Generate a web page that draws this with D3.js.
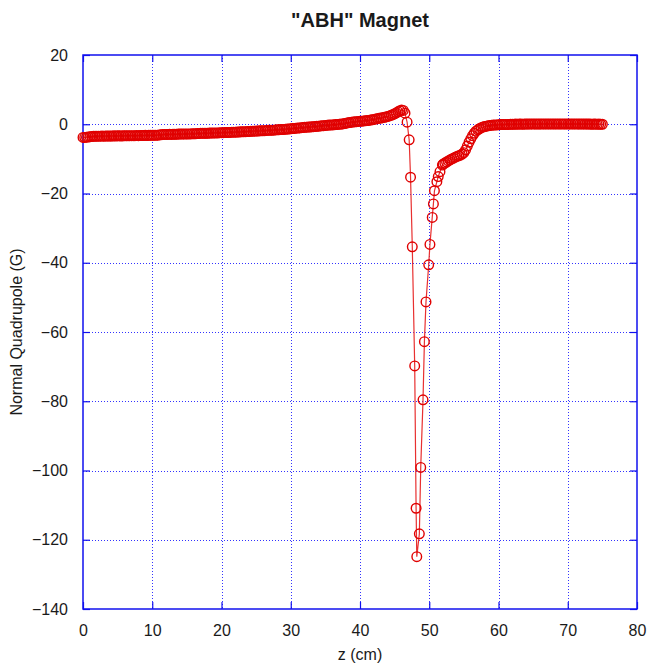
<!DOCTYPE html>
<html>
<head>
<meta charset="utf-8">
<script src="https://cdn.jsdelivr.net/npm/d3@7"></script>
<style>
  body { margin: 0; background: #fff; }
  text { font-family: "Liberation Sans", Arial, sans-serif; fill: #1a1a1a; }
</style>
</head>
<body>
<div id="chart"></div>
<script>
// loading data
// z grid of the smooth part before the dip (0 .. 46.5 cm, every 0.25 cm)
var zRise = d3.range(0, 46.51, 0.25);
var qRise = [
  -3.8, -3.8, -3.75, -3.7,      // 0
  -3.6, -3.55, -3.5, -3.5,      // 1
  -3.45, -3.45, -3.45, -3.4,    // 2
  -3.45, -3.4, -3.4, -3.4,      // 3
  -3.4, -3.4, -3.35, -3.4,      // 4
  -3.35, -3.35, -3.4, -3.35,    // 5
  -3.35, -3.3, -3.35, -3.3,     // 6
  -3.3, -3.3, -3.3, -3.25,      // 7
  -3.3, -3.25, -3.25, -3.25,    // 8
  -3.2, -3.25, -3.2, -3.2,      // 9
  -3.2, -3.15, -3.2, -3.15,     // 10
  -3.1, -3.05, -2.95, -2.95,    // 11
  -2.95, -2.95, -2.9, -2.95,    // 12
  -2.9, -2.9, -2.9, -2.85,      // 13
  -2.85, -2.85, -2.8, -2.85,    // 14
  -2.8, -2.8, -2.8, -2.75,      // 15
  -2.75, -2.75, -2.7, -2.65,    // 16
  -2.6, -2.6, -2.6, -2.6,       // 17
  -2.6, -2.55, -2.55, -2.55,    // 18
  -2.5, -2.5, -2.5, -2.45,      // 19
  -2.45, -2.45, -2.4, -2.4,     // 20
  -2.35, -2.35, -2.3, -2.3,     // 21
  -2.3, -2.25, -2.25, -2.2,     // 22
  -2.2, -2.15, -2.15, -2.1,     // 23
  -2.1, -2.05, -2.0, -2.0,      // 24
  -1.95, -1.95, -1.9, -1.9,     // 25
  -1.85, -1.85, -1.8, -1.75,    // 26
  -1.75, -1.7, -1.7, -1.65,     // 27
  -1.6, -1.6, -1.55, -1.5,      // 28
  -1.5, -1.45, -1.4, -1.35,     // 29
  -1.3, -1.25, -1.2, -1.15,     // 30
  -1.1, -1.05, -1.0, -0.95,     // 31
  -0.9, -0.85, -0.8, -0.8,      // 32
  -0.75, -0.7, -0.65, -0.6,     // 33
  -0.55, -0.5, -0.45, -0.4,     // 34
  -0.35, -0.3, -0.25, -0.2,     // 35
  -0.2, -0.15, -0.1, -0.05,     // 36
  0.0, 0.05, 0.1, 0.2,          // 37
  0.3, 0.4, 0.5, 0.6,           // 38
  0.65, 0.7, 0.75, 0.8,         // 39
  0.85, 0.9, 0.95, 1.0,         // 40
  1.05, 1.1, 1.2, 1.3,          // 41
  1.4, 1.5, 1.6, 1.7,           // 42
  1.8, 1.9, 2.0, 2.1,           // 43
  2.25, 2.4, 2.6, 2.8,          // 44
  3.0, 3.3, 3.6, 3.9,           // 45
  4.1, 4.0, 3.2                 // 46
];

// the dip, read point by point
var zDip = [46.8, 47.1, 47.3, 47.55, 47.9, 48.1, 48.2, 48.57, 48.77, 49.1, 49.3,
            49.53, 49.92, 50.1, 50.43, 50.6, 50.75, 51.1, 51.3, 51.55, 51.9];
var qDip = [0.6, -4.5, -15.3, -35.4, -69.8, -110.9, -124.9, -118.3, -99.1, -79.6, -62.8,
            -51.3, -40.6, -34.7, -26.9, -23.0, -19.2, -16.6, -15.1, -13.7, -11.8];

// the recovery and the tail (52 .. 75 cm, every 0.25 cm)
var zTail = d3.range(52, 75.01, 0.25);
var qTail = [
  -11.5, -11.2, -10.9, -10.6,   // 52
  -10.3, -10.0, -9.8, -9.5,     // 53
  -9.3, -9.1, -8.9, -8.6,       // 54
  -8.2, -7.4, -6.3, -5.2,       // 55
  -4.2, -3.3, -2.6, -2.0,       // 56
  -1.6, -1.3, -1.0, -0.8,       // 57
  -0.65, -0.55, -0.45, -0.35,   // 58
  -0.3, -0.25, -0.2, -0.2,      // 59
  -0.15, -0.1, -0.1, -0.1,      // 60
  -0.05, -0.05, -0.05, 0.0,     // 61
  0.0, 0.0, 0.05, 0.0,          // 62
  0.05, 0.05, 0.0, 0.05,        // 63
  0.05, 0.05, 0.05, 0.1,        // 64
  0.05, 0.1, 0.05, 0.05,        // 65
  0.1, 0.05, 0.1, 0.1,          // 66
  0.05, 0.1, 0.1, 0.05,         // 67
  0.1, 0.1, 0.05, 0.1,          // 68
  0.1, 0.05, 0.1, 0.1,          // 69
  0.05, 0.1, 0.05, 0.1,         // 70
  0.1, 0.05, 0.1, 0.05,         // 71
  0.05, 0.1, 0.05, 0.05,        // 72
  0.05, 0.05, 0.0, 0.05,        // 73
  0.05, 0.0, 0.05, 0.0,         // 74
  0.0                           // 75
];

var xTicks = [0, 10, 20, 30, 40, 50, 60, 70, 80];
var yTicks = [20, 0, -20, -40, -60, -80, -100, -120, -140];

// building the point list
var data = [];
zRise.forEach(function(z, i) { data.push({ z: z, q: qRise[i] }); });
zDip.forEach(function(z, i) { data.push({ z: z, q: qDip[i] }); });
zTail.forEach(function(z, i) { data.push({ z: z, q: qTail[i] }); });

// setting the dimensions and margins of the chart
var margin = { top: 55, right: 13, bottom: 55, left: 83 };
var width = 650 - margin.left - margin.right,
    height = 664 - margin.top - margin.bottom;

var svg = d3.select("#chart")
  .append("svg")
  .attr("width", 650)
  .attr("height", 664)
  .append("g")
  .attr("transform", "translate(" + margin.left + "," + margin.top + ")");

var x = d3.scaleLinear().domain([0, 80]).range([0, width]);
var y = d3.scaleLinear().domain([-140, 20]).range([height, 0]);

// grid lines
var grid = svg.append("g").attr("class", "grid");
grid.selectAll(".gx")
  .data(xTicks.slice(1, -1))
  .enter().append("line")
  .attr("x1", function(d) { return Math.round(x(d)) + 0.5; })
  .attr("x2", function(d) { return Math.round(x(d)) + 0.5; })
  .attr("y1", 0).attr("y2", height)
  .attr("stroke", "#3333ff").attr("stroke-dasharray", "1,2");
grid.selectAll(".gy")
  .data(yTicks.slice(1, -1))
  .enter().append("line")
  .attr("y1", function(d) { return Math.round(y(d)) + 0.5; })
  .attr("y2", function(d) { return Math.round(y(d)) + 0.5; })
  .attr("x1", 0).attr("x2", width)
  .attr("stroke", "#3333ff").attr("stroke-dasharray", "1,2");

// axes (ticks point inward)
function styleAxis(g) {
  g.select(".domain").remove();
  g.selectAll(".tick line").attr("stroke", "#1010ee").attr("stroke-width", 1.2);
  g.selectAll("text").attr("font-size", "16px").attr("fill", "#1a1a1a");
}
svg.append("g")
  .attr("transform", "translate(0," + height + ")")
  .call(d3.axisBottom(x).tickValues(xTicks).tickSizeInner(-7).tickSizeOuter(0).tickPadding(16))
  .call(styleAxis);
svg.append("g")
  .call(d3.axisTop(x).tickValues(xTicks).tickSizeInner(-7).tickSizeOuter(0).tickFormat(""))
  .call(styleAxis);
svg.append("g")
  .call(d3.axisLeft(y).tickValues(yTicks).tickSizeInner(-7).tickSizeOuter(0).tickPadding(15))
  .call(styleAxis);
svg.append("g")
  .attr("transform", "translate(" + width + ",0)")
  .call(d3.axisRight(y).tickValues(yTicks).tickSizeInner(-7).tickSizeOuter(0).tickFormat(""))
  .call(styleAxis);

// frame
svg.append("rect")
  .attr("x", 0).attr("y", 0)
  .attr("width", width).attr("height", height)
  .attr("fill", "none")
  .attr("stroke", "#1010ee")
  .attr("stroke-width", 1.5);

// the curve
var line = d3.line()
  .x(function(d) { return x(d.z); })
  .y(function(d) { return y(d.q); });

svg.append("path")
  .datum(data)
  .attr("fill", "none")
  .attr("stroke", "#e83030")
  .attr("stroke-width", 1.2)
  .attr("d", line);

svg.selectAll(".pt")
  .data(data)
  .enter().append("circle")
  .attr("class", "pt")
  .attr("cx", function(d) { return x(d.z); })
  .attr("cy", function(d) { return y(d.q); })
  .attr("r", 4.8)
  .attr("fill", "none")
  .attr("stroke", "#e00000")
  .attr("stroke-width", 1.4);

// titles
svg.append("text")
  .attr("x", width / 2)
  .attr("y", -28)
  .attr("text-anchor", "middle")
  .attr("font-size", "20px")
  .attr("font-weight", "bold")
  .text('"ABH" Magnet');

svg.append("text")
  .attr("x", width / 2)
  .attr("y", height + 51)
  .attr("text-anchor", "middle")
  .attr("font-size", "16px")
  .text("z (cm)");

svg.append("text")
  .attr("transform", "translate(" + (-61) + "," + (height / 2) + ") rotate(-90)")
  .attr("text-anchor", "middle")
  .attr("font-size", "16px")
  .text("Normal Quadrupole (G)");
</script>
</body>
</html>
